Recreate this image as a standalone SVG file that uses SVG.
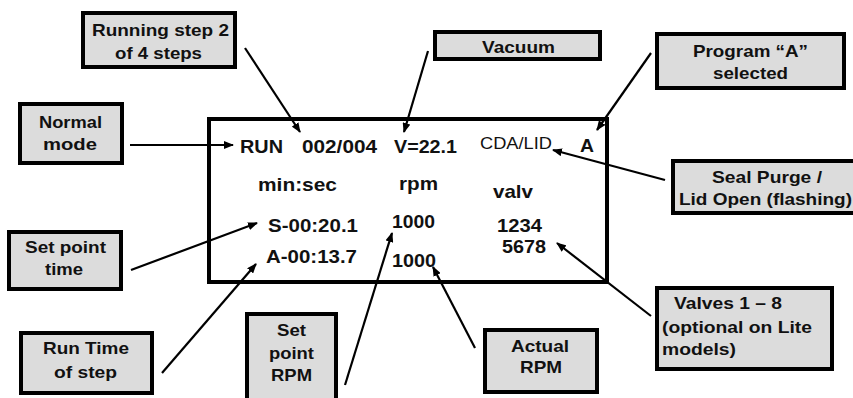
<svg xmlns="http://www.w3.org/2000/svg" width="853" height="398" viewBox="0 0 853 398">
<style>
.box{fill:#dcdcdc;stroke:#000;stroke-width:4}
.disp{fill:#fff;stroke:#000;stroke-width:4}
.t{font-family:"Liberation Sans",Arial,sans-serif;font-weight:bold;font-size:16.5px;fill:#111}
.c{text-anchor:middle}
.d{font-family:"Liberation Sans",Arial,sans-serif;font-weight:bold;font-size:19px;fill:#111}
.n{font-weight:normal;font-size:17px}
.con line{stroke:#000;stroke-width:2.2;marker-end:url(#ah)}
</style>
<defs>
<marker id="ah" markerUnits="userSpaceOnUse" markerWidth="10" markerHeight="8" refX="9" refY="4" orient="auto">
<path d="M0,0 L10,4 L0,8 Z" fill="#000"/>
</marker>
</defs>
<rect width="853" height="398" fill="#fff"/>
<g id="display">
<rect class="disp" x="209" y="119" width="398" height="163"/>
<text class="d" x="240" y="153" textLength="43" lengthAdjust="spacingAndGlyphs">RUN</text>
<text class="d" x="302" y="153" textLength="75" lengthAdjust="spacingAndGlyphs">002/004</text>
<text class="d" x="394" y="153" textLength="63" lengthAdjust="spacingAndGlyphs">V=22.1</text>
<text class="d n" x="480" y="149" textLength="72" lengthAdjust="spacingAndGlyphs">CDA/LID</text>
<text class="d" x="580" y="152" textLength="14" lengthAdjust="spacingAndGlyphs">A</text>
<text class="d" x="258" y="191" textLength="79" lengthAdjust="spacingAndGlyphs">min:sec</text>
<text class="d" x="399" y="190" textLength="39" lengthAdjust="spacingAndGlyphs">rpm</text>
<text class="d" x="493" y="198" textLength="40" lengthAdjust="spacingAndGlyphs">valv</text>
<text class="d" x="268" y="232" textLength="90" lengthAdjust="spacingAndGlyphs">S-00:20.1</text>
<text class="d" x="266" y="263" textLength="91" lengthAdjust="spacingAndGlyphs">A-00:13.7</text>
<text class="d" x="392" y="228" textLength="43" lengthAdjust="spacingAndGlyphs">1000</text>
<text class="d" x="392" y="267" textLength="44" lengthAdjust="spacingAndGlyphs">1000</text>
<text class="d" x="497" y="232" textLength="45" lengthAdjust="spacingAndGlyphs">1234</text>
<text class="d" x="502" y="253" textLength="44" lengthAdjust="spacingAndGlyphs">5678</text>
</g>
<g id="running-step">
<rect class="box" x="83" y="13" width="152" height="54"/>
<text class="t c" x="160.5" y="36" textLength="137" lengthAdjust="spacingAndGlyphs">Running step 2</text>
<text class="t c" x="158.5" y="59" textLength="87" lengthAdjust="spacingAndGlyphs">of 4 steps</text>
</g>
<g id="normal-mode">
<rect class="box" x="20" y="104" width="102" height="59"/>
<text class="t c" x="70.5" y="128" textLength="63" lengthAdjust="spacingAndGlyphs">Normal</text>
<text class="t c" x="70" y="150" textLength="54" lengthAdjust="spacingAndGlyphs">mode</text>
</g>
<g id="vacuum">
<rect class="box" x="435" y="32" width="165" height="27"/>
<text class="t c" x="518.5" y="53" textLength="73" lengthAdjust="spacingAndGlyphs">Vacuum</text>
</g>
<g id="program">
<rect class="box" x="657" y="34" width="187" height="54"/>
<text class="t c" x="750.5" y="57" textLength="115" lengthAdjust="spacingAndGlyphs">Program “A”</text>
<text class="t c" x="750.5" y="79" textLength="75" lengthAdjust="spacingAndGlyphs">selected</text>
</g>
<g id="seal-purge">
<rect class="box" x="673" y="161" width="192" height="52"/>
<text class="t c" x="767" y="183" textLength="110" lengthAdjust="spacingAndGlyphs">Seal Purge /</text>
<text class="t c" x="765.5" y="205" textLength="173" lengthAdjust="spacingAndGlyphs">Lid Open (flashing)</text>
</g>
<g id="set-point-time">
<rect class="box" x="9" y="232" width="112" height="57"/>
<text class="t c" x="65.5" y="253" textLength="81" lengthAdjust="spacingAndGlyphs">Set point</text>
<text class="t c" x="64" y="275" textLength="38" lengthAdjust="spacingAndGlyphs">time</text>
</g>
<g id="run-time">
<rect class="box" x="21" y="333" width="131" height="60"/>
<text class="t c" x="86" y="354" textLength="86" lengthAdjust="spacingAndGlyphs">Run Time</text>
<text class="t c" x="85.5" y="378" textLength="63" lengthAdjust="spacingAndGlyphs">of step</text>
</g>
<g id="set-point-rpm">
<rect class="box" x="247" y="314" width="89" height="96"/>
<text class="t c" x="291.5" y="336" textLength="29" lengthAdjust="spacingAndGlyphs">Set</text>
<text class="t c" x="291.5" y="359" textLength="45" lengthAdjust="spacingAndGlyphs">point</text>
<text class="t c" x="291.5" y="381" textLength="41" lengthAdjust="spacingAndGlyphs">RPM</text>
</g>
<g id="actual-rpm">
<rect class="box" x="485" y="330" width="112" height="62"/>
<text class="t c" x="540" y="352" textLength="58" lengthAdjust="spacingAndGlyphs">Actual</text>
<text class="t c" x="541" y="373" textLength="42" lengthAdjust="spacingAndGlyphs">RPM</text>
</g>
<g id="valves">
<rect class="box" x="657" y="288" width="175" height="81"/>
<text class="t" x="674" y="309" textLength="108" lengthAdjust="spacingAndGlyphs">Valves 1 – 8</text>
<text class="t" x="662" y="333" textLength="150" lengthAdjust="spacingAndGlyphs">(optional on Lite</text>
<text class="t" x="662" y="355" textLength="74" lengthAdjust="spacingAndGlyphs">models)</text>
</g>
<g id="connectors" class="con">
<line x1="130" y1="145" x2="233" y2="145"/>
<line x1="245" y1="48" x2="300" y2="132"/>
<line x1="428" y1="51" x2="404" y2="132"/>
<line x1="651" y1="53" x2="597" y2="130"/>
<line x1="665" y1="180" x2="553" y2="150"/>
<line x1="651" y1="316" x2="557" y2="243"/>
<line x1="131" y1="270" x2="257" y2="223"/>
<line x1="162" y1="373" x2="256" y2="264"/>
<line x1="345" y1="385" x2="392" y2="233"/>
<line x1="475" y1="348" x2="433" y2="267"/>
</g>
</svg>
